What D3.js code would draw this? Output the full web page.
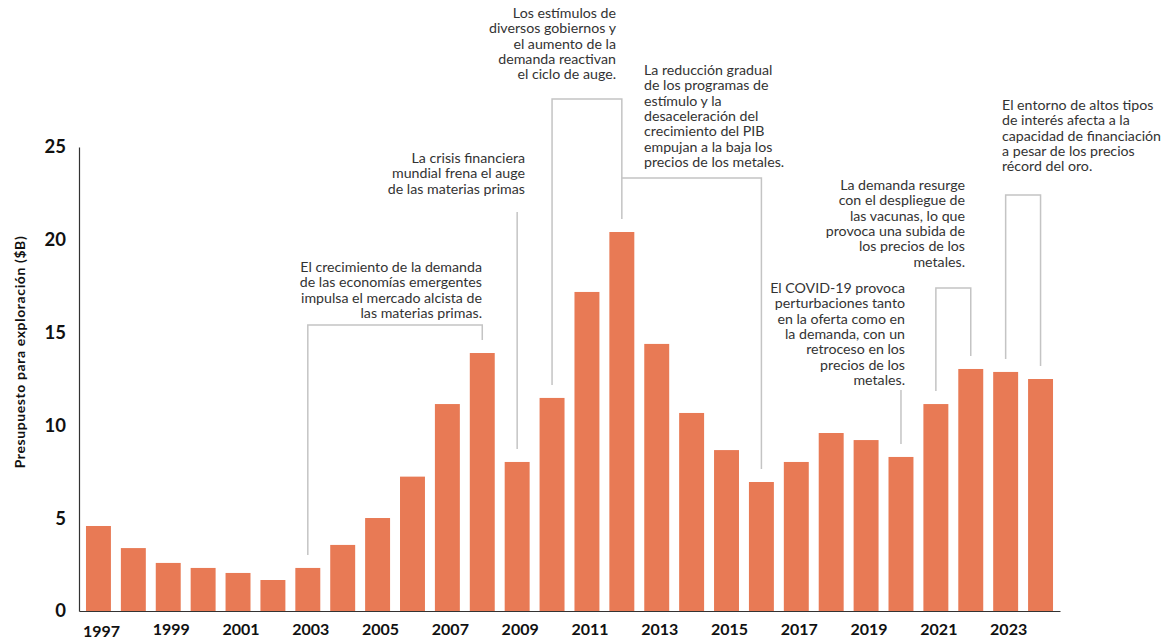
<!DOCTYPE html>
<html>
<head>
<meta charset="utf-8">
<script src="https://cdn.jsdelivr.net/npm/d3@7"></script>
<style>
  html, body { margin: 0; padding: 0; background: #fff; }
  svg { display: block; font-family: Lato, "Noto Sans", sans-serif; }
</style>
</head>
<body>
<svg id="chart" width="1163" height="640"></svg>
<script>
// ---------- data ----------
const years = [1997,1998,1999,2000,2001,2002,2003,2004,2005,2006,2007,2008,2009,2010,
               2011,2012,2013,2014,2015,2016,2017,2018,2019,2020,2021,2022,2023,2024];
const budget = [4.58,3.39,2.59,2.32,2.05,1.67,2.32,3.56,5.01,7.24,11.15,13.9,8.03,11.48,
                17.19,20.42,14.39,10.67,8.67,6.95,8.03,9.59,9.21,8.30,11.15,13.04,12.88,12.5];
const xTickYears = [1997,1999,2001,2003,2005,2007,2009,2011,2013,2015,2017,2019,2021,2023];
const yTicks = [0,5,10,15,20,25];
const yTitle = "Presupuesto para exploración ($B)";

// annotations: text lines, anchor years
const annotations = [
  { lines: ["El crecimiento de la demanda","de las economías emergentes","impulsa el mercado alcista de","las materias primas."],
    from: 2003, to: 2008, align: "end" },
  { lines: ["La crisis financiera","mundial frena el auge","de las materias primas"],
    from: 2009, align: "end" },
  { lines: ["Los estímulos de","diversos gobiernos y","el aumento de la","demanda reactivan","el ciclo de auge."],
    from: 2010, to: 2012, align: "end" },
  { lines: ["La reducción gradual","de los programas de","estímulo y la","desaceleración del","crecimiento del PIB","empujan a la baja los","precios de los metales."],
    from: 2012, to: 2016, align: "start" },
  { lines: ["El COVID-19 provoca","perturbaciones tanto","en la oferta como en","la demanda, con un","retroceso en los","precios de los","metales."],
    from: 2020, align: "end" },
  { lines: ["La demanda resurge","con el despliegue de","las vacunas, lo que","provoca una subida de","los precios de los","metales."],
    from: 2021, to: 2022, align: "end" },
  { lines: ["El entorno de altos tipos","de interés afecta a la","capacidad de financiación","a pesar de los precios","récord del oro."],
    from: 2023, to: 2024, align: "start" }
];
// layout for annotations (pixels): text anchor x, first line centre y, bracket top y
const annLayout = [
  { tx: 482, ty: 267, top: 325 },
  { tx: 525, ty: 158, top: 212 },
  { tx: 616, ty: 13,  top: 99 },
  { tx: 644, ty: 70,  top: 178 },
  { tx: 905, ty: 288, top: 390 },
  { tx: 965, ty: 185, top: 288 },
  { tx: 1002, ty: 105, top: 195 }
];

// ---------- scales ----------
const svg = d3.select("#chart");
const margin = { left: 79, right: 103, top: 147, bottom: 29 };
const W = 1163, H = 640;
const x = d3.scaleBand().domain(years).range([margin.left, W - margin.right])
  .paddingInner(0.285).paddingOuter(0.2);
const y = d3.scaleLinear().domain([0, 25]).range([H - margin.bottom, margin.top]);
const cx = yr => x(yr) + x.bandwidth() / 2;

// ---------- bars ----------
svg.append("g").selectAll("rect").data(years).join("rect")
  .attr("x", d => x(d))
  .attr("y", (d, i) => y(budget[i]))
  .attr("width", x.bandwidth())
  .attr("height", (d, i) => y(0) - y(budget[i]))
  .attr("fill", "#E87A55");

// ---------- axes ----------
const xAxis = d3.axisBottom(x).tickValues(xTickYears).tickSize(0).tickPadding(11);
const gx = svg.append("g").attr("transform", `translate(0,${y(0)})`).call(xAxis);
gx.select(".domain").attr("stroke", "#333").attr("stroke-width", 1.2);
gx.selectAll("text").attr("font-size", 16).attr("font-weight", 700).attr("fill", "#111")
  .attr("font-family", "Lato, sans-serif")
  .attr("dx", 3)
  .attr("dy", (d, i) => i === 0 ? "0.93em" : "0.8em");

const yAxis = d3.axisLeft(y).tickValues(yTicks).tickSize(0).tickPadding(13);
const gy = svg.append("g").attr("transform", `translate(${margin.left},0)`).call(yAxis);
gy.select(".domain").attr("stroke", "#333").attr("stroke-width", 1.2);
gy.selectAll("text").attr("font-size", 18.5).attr("font-weight", 700).attr("fill", "#111")
  .attr("font-family", "Lato, sans-serif");

svg.append("text")
  .attr("transform", `translate(25,${352}) rotate(-90)`)
  .attr("text-anchor", "middle")
  .attr("font-size", 14).attr("font-weight", 700).attr("fill", "#111")
  .attr("letter-spacing", 0.6)
  .text(yTitle);

// ---------- annotations ----------
const lineColor = "#c4c4c4";
const gap = 13;
const lh = 15.4;
const gAnn = svg.append("g");
annotations.forEach((a, i) => {
  const L = annLayout[i];
  const t = gAnn.append("text")
    .attr("text-anchor", a.align)
    .attr("font-size", 14.2).attr("fill", "#333");
  a.lines.forEach((ln, j) => {
    t.append("tspan").attr("x", L.tx).attr("y", L.ty + j * lh + 4.8).text(ln);
  });
  const yi = yr => y(budget[years.indexOf(yr)]) - gap;
  let path;
  if (a.to === undefined) {
    path = d3.line()([[cx(a.from), L.top], [cx(a.from), yi(a.from)]]);
  } else if (i === 3) {
    // starts from the previous bracket's right line
    path = d3.line()([[cx(a.from), L.top], [cx(a.to), L.top], [cx(a.to), yi(a.to)]]);
  } else {
    path = d3.line()([[cx(a.from), yi(a.from)], [cx(a.from), L.top], [cx(a.to), L.top], [cx(a.to), yi(a.to)]]);
  }
  gAnn.append("path").attr("d", path).attr("fill", "none")
    .attr("stroke", lineColor).attr("stroke-width", 1.5);
});
</script>
</body>
</html>
